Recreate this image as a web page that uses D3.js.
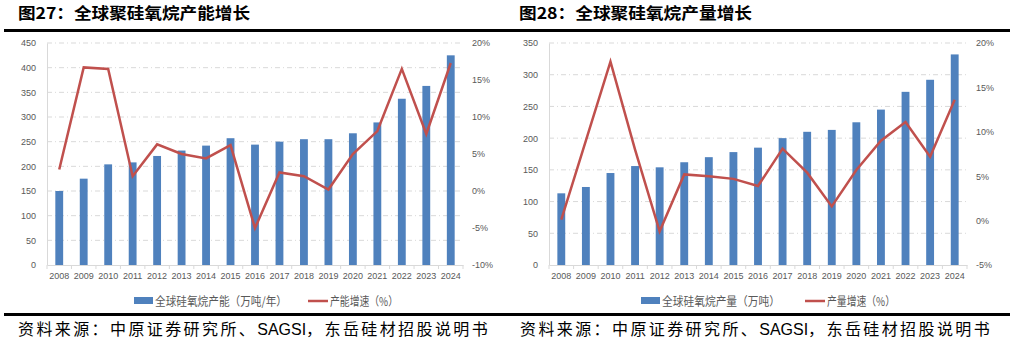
<!DOCTYPE html>
<html><head><meta charset="utf-8">
<script src="https://cdn.jsdelivr.net/npm/d3@7/dist/d3.min.js"></script>
<style>
html,body{margin:0;padding:0;background:#fff;}
svg{display:block;}
</style></head>
<body><svg id="c" width="1014" height="343"></svg>
<script>
const years = ["2008","2009","2010","2011","2012","2013","2014","2015","2016","2017","2018","2019","2020","2021","2022","2023","2024"];
const capacity = [150,175,204,208,221,232,242,257,244,250,255,255,267,289,337,363,425];
const capacityGrowth = [2.9,16.7,16.5,2.0,6.3,5.0,4.4,6.2,-5.0,2.5,2.0,0.2,5.0,8.1,16.5,7.7,17.3];
const output = [113,123,145,156,154,162,170,178,185,200,210,213,225,245,273,292,332];
const outputGrowth = [0.1,9.0,17.9,8.0,-1.2,5.2,5.0,4.7,3.9,8.1,5.4,1.6,5.7,9.0,11.1,7.2,13.6];
const leftTicks1 = [0,50,100,150,200,250,300,350,400,450];
const rightTicks1 = [-10,-5,0,5,10,15,20];
const leftTicks2 = [0,50,100,150,200,250,300,350];
const rightTicks2 = [-5,0,5,10,15,20];
const titles = ["图27：全球聚硅氧烷产能增长","图28：全球聚硅氧烷产量增长"];
const barNames = ["全球硅氧烷产能（万吨/年）","全球硅氧烷产量（万吨）"];
const lineNames = ["产能增速（%）","产量增速（%）"];
const sourceParts = ["资料来源：中原证券研究所、","SAGSI","，东岳硅材招股说明书"];

const svg = d3.select("#c");
const CJK = "'Noto Sans CJK SC','Noto Sans',sans-serif";
const NUM = "'Liberation Sans',Arial,sans-serif";

function drawChart(o){
  const g = svg.append("g");
  // title
  g.append("text").attr("x", o.titleX).attr("y", 19).text(o.title)
    .attr("font-family", CJK).attr("font-weight", "bold").attr("font-size", 16)
    .attr("fill", "#000").attr("textLength", o.titleW).attr("lengthAdjust","spacingAndGlyphs");
  // top & bottom rules
  g.append("rect").attr("x", o.ruleX0).attr("y", 29).attr("width", o.ruleX1 - o.ruleX0).attr("height", 3).attr("fill", "#000");
  g.append("rect").attr("x", o.ruleX0).attr("y", 313).attr("width", o.ruleX1 - o.ruleX0).attr("height", 3).attr("fill", "#000");
  // source
  const src = g.append("text").attr("x", o.srcX).attr("y", 335)
    .attr("font-family", CJK).attr("font-size", 16).attr("fill", "#000");
  src.append("tspan").text(sourceParts[0]).attr("letter-spacing", 2.4);
  src.append("tspan").text(sourceParts[1]).attr("font-family", NUM).attr("letter-spacing", 0);
  src.append("tspan").text(sourceParts[2]).attr("letter-spacing", 2.4);

  const x = d3.scaleBand().domain(years).range([o.x0, o.x1]).paddingInner(0.68).paddingOuter(0.34);
  const step = (o.x1 - o.x0) / years.length;
  const yL = d3.scaleLinear().domain([o.leftTicks[0], o.leftTicks[o.leftTicks.length-1]]).range([265, 43]);
  const yR = d3.scaleLinear().domain([o.rightTicks[0], o.rightTicks[o.rightTicks.length-1]]).range([265, 43]);

  // gridlines
  g.append("g").selectAll("line").data(o.leftTicks.slice(1)).join("line")
    .attr("x1", o.x0).attr("x2", o.x1).attr("y1", d => yL(d)).attr("y2", d => yL(d))
    .attr("stroke", "#d9d9d9").attr("stroke-width", 1).attr("stroke-dasharray", "5,3,1,3");

  // left axis
  const axL = g.append("g").attr("transform", `translate(${o.x0},0)`)
    .call(d3.axisLeft(yL).tickValues(o.leftTicks).tickSize(0).tickPadding(11));
  axL.select(".domain").attr("stroke", "#d9d9d9");
  axL.selectAll("text").attr("font-family", NUM).attr("font-size", 9).attr("fill", "#595959");

  // right axis (labels only)
  const axR = g.append("g").attr("transform", `translate(${o.x1},0)`)
    .call(d3.axisRight(yR).tickValues(o.rightTicks).tickSize(0).tickPadding(o.rPad).tickFormat(d => d + "%"));
  axR.select(".domain").remove();
  axR.selectAll("text").attr("font-family", NUM).attr("font-size", 9).attr("fill", "#595959");

  // bars
  g.append("g").selectAll("rect").data(years).join("rect")
    .attr("x", d => x(d)).attr("width", x.bandwidth())
    .attr("y", (d,i) => yL(o.bars[i])).attr("height", (d,i) => yL(0) - yL(o.bars[i]))
    .attr("fill", "#4f81bd");

  // x axis
  const axB = g.append("g").attr("transform", "translate(0,265)")
    .call(d3.axisBottom(x).tickSize(0).tickPadding(8));
  axB.select(".domain").attr("stroke", "#d9d9d9");
  axB.selectAll("text").attr("font-family", NUM).attr("font-size", 9).attr("fill", "#595959");
  g.append("g").selectAll("line").data(d3.range(years.length + 1)).join("line")
    .attr("x1", i => o.x0 + i * step).attr("x2", i => o.x0 + i * step)
    .attr("y1", 265).attr("y2", 269).attr("stroke", "#d9d9d9");

  // line
  const line = d3.line().x((d,i) => x(years[i]) + x.bandwidth()/2).y(d => yR(d));
  g.append("path").datum(o.growth).attr("d", line)
    .attr("fill", "none").attr("stroke", "#c0504d").attr("stroke-width", 2.5).attr("stroke-linejoin", "miter");

  // legend
  g.append("rect").attr("x", o.lg[0]).attr("y", 297).attr("width", 19).attr("height", 7).attr("fill", "#4f81bd");
  g.append("text").attr("x", o.lg[0] + 21).attr("y", 305.5).text(o.barName)
    .attr("font-family", CJK).attr("font-size", 12).attr("fill", "#595959")
    .attr("textLength", o.lg[1]).attr("lengthAdjust","spacingAndGlyphs");
  g.append("line").attr("x1", o.lg[2]).attr("x2", o.lg[2] + 20).attr("y1", 301).attr("y2", 301)
    .attr("stroke", "#c0504d").attr("stroke-width", 2.5);
  g.append("text").attr("x", o.lg[2] + 22).attr("y", 305.5).text(o.lineName)
    .attr("font-family", CJK).attr("font-size", 12).attr("fill", "#595959")
    .attr("textLength", o.lg[3]).attr("lengthAdjust","spacingAndGlyphs");
}

drawChart({title: titles[0], titleX: 18, titleW: 232, ruleX0: 4, ruleX1: 507, srcX: 18,
  x0: 47, x1: 463, leftTicks: leftTicks1, rightTicks: rightTicks1, rPad: 9,
  bars: capacity, growth: capacityGrowth, barName: barNames[0], lineName: lineNames[0],
  lg: [134, 132, 308, 68]});
drawChart({title: titles[1], titleX: 519, titleW: 233, ruleX0: 507, ruleX1: 1010, srcX: 520,
  x0: 549, x1: 967, leftTicks: leftTicks2, rightTicks: rightTicks2, rPad: 9,
  bars: output, growth: outputGrowth, barName: barNames[1], lineName: lineNames[1],
  lg: [641, 118, 805, 68]});
</script></body></html>
